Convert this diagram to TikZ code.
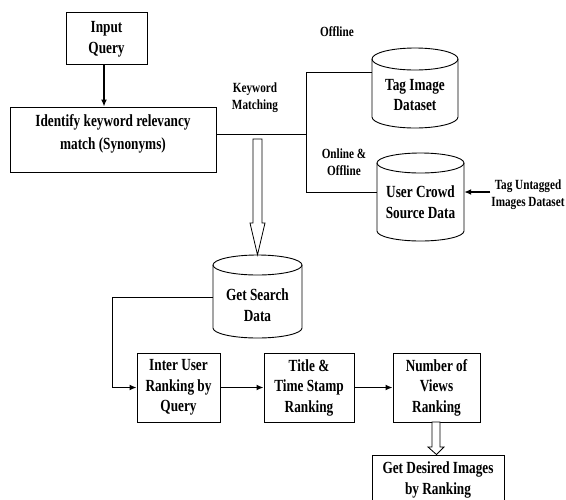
\documentclass[tikz,border=0pt]{standalone}
\usepackage{fontspec}
\setmainfont[FakeStretch=0.78]{Liberation Serif}
\newfontfamily\labelfont[FakeStretch=0.8]{Liberation Serif}
\usetikzlibrary{arrows.meta}
\tikzset{
  boxnode/.style={draw, line width=0.9pt, align=center, inner sep=0pt,
    font=\bfseries\fontsize{17}{20.5}\selectfont},
  txt/.style={align=center, inner sep=0pt, font=\bfseries\fontsize{17}{20.5}\selectfont},
  identstyle/.style={align=center, inner sep=0pt, font=\bfseries\fontsize{17}{23}\selectfont},
  lbl/.style={align=center, inner sep=0pt, font=\labelfont\bfseries\fontsize{14}{17}\selectfont},
  area/.style={inner sep=0pt},
  thin line/.style={line width=0.9pt},
  cylline/.style={line width=0.9pt},
  arr/.style={line width=1.6pt, -{Latex[length=7pt,width=6pt]}},
  hollow/.style={line width=0.8pt, fill=white, line join=miter}
}
\newcommand\drawcyl[5]{% cx rx top bottom ry
  \draw[cylline] (#1,#3+#5) ellipse [x radius=#2pt, y radius=#5pt];
  \draw[cylline] (#1-#2,#3+#5) -- (#1-#2,#4-#5)
     arc[start angle=180,end angle=360,x radius=#2pt,y radius=#5pt] -- (#1+#2,#3+#5);
}
\begin{document}
\begin{tikzpicture}[x=1pt,y=-1pt]
\useasboundingbox (0,0) rectangle (566,499);
\clip (0,0) rectangle (566,499);

% boxes
\node[boxnode, minimum width=81pt, minimum height=52pt] (input) at (106.5,38) {};
\node[txt] (inputtxt) at (106.5,39.5) {Input\\Query};
\node[boxnode, minimum width=206pt, minimum height=65pt] (ident) at (113,139.5) {};
\node[identstyle] (identtxt) at (113,133.5) {Identify keyword relevancy\\match (Synonyms)};

\node[boxnode, minimum width=83pt, minimum height=69pt] (inter) at (178.5,387.5) {Inter User\\Ranking by\\Query};
\node[boxnode, minimum width=90pt, minimum height=69pt] (title) at (309,387.5) {Title \&\\Time Stamp\\Ranking};
\node[boxnode, minimum width=87pt, minimum height=69pt] (views) at (436.5,387.5) {Number of\\Views\\Ranking};
\node[boxnode, minimum width=132pt, minimum height=70pt] (desired) at (438,490) {};
\node[txt] (desiredtxt) at (438,480) {Get Desired Images\\by Ranking};

% cylinders
\drawcyl{415}{43}{48}{128}{11}
\node[area, minimum width=86pt, minimum height=80pt] (tagimg) at (415,88) {};
\node[txt] (tagimgtxt) at (415,95) {Tag Image\\Dataset};

\drawcyl{420.5}{43.5}{153}{241}{10}
\node[area, minimum width=87pt, minimum height=88pt] (crowd) at (420.5,197) {};
\node[txt] (crowdtxt) at (420.5,202) {User Crowd\\Source Data};

\drawcyl{257.5}{44.5}{255}{338}{10}
\node[area, minimum width=89pt, minimum height=83pt] (search) at (257.5,296.5) {};
\node[txt] (searchtxt) at (257.5,305) {Get Search\\Data};

% labels
\node[lbl] (kw) at (255,98) {Keyword\\Matching};
\node[lbl] (offline) at (337,32) {Offline};
\node[lbl] (onoff) at (344,162) {Online \&\\Offline};
\node[lbl] (untag) at (528,195) {Tag Untagged\\Images Dataset};

% connectors
\coordinate (junc) at (306,134);
\coordinate (jtop) at (306,72);
\coordinate (jbot) at (306,192);
\draw[arr] (input.south -| 104,0) -- (ident.north -| 104,0);
\draw[thin line] (ident.east |- junc) -- (junc);
\draw[thin line] (tagimg.west |- jtop) -- (jtop) -- (jbot) -- (crowd.west |- jbot);
\draw[arr] (untag.west |- jbot) ++(-1,0) -- (crowd.east |- jbot);

% hollow arrow down to search
\draw[hollow] (253,139) -- (262,139) -- (262,223) -- (265,223) -- (search.north) -- (250,223) -- (253,223) -- cycle;

\coordinate (lk) at (112,297);
\draw[thin line] (search.west |- lk) -- (lk) -- (lk |- inter.west);
\draw[arr] (lk |- inter.west) -- (inter.west);
\draw[arr] (inter.east) -- (title.west);
\draw[arr] (title.east) -- (views.west);

\draw[hollow] (432,422) -- (440,422) -- (440,447) -- (444,447) -- (desired.north -| views.south) -- (428,447) -- (432,447) -- cycle;
\end{tikzpicture}
\end{document}
